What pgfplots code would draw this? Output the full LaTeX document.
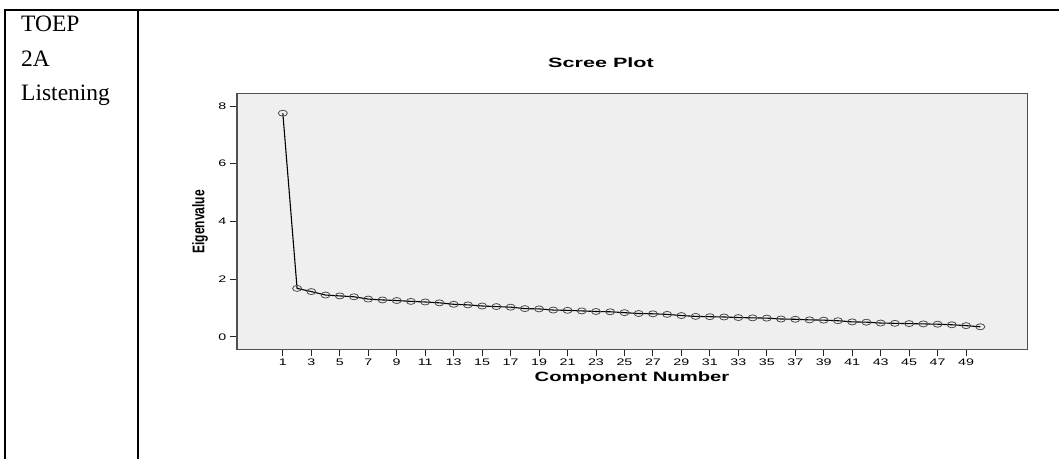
\documentclass[border=0pt]{standalone}
\usepackage{fontspec}
\setmainfont{Liberation Serif}
\newfontfamily\arial{Liberation Sans}
\usepackage{pgfplots}
\pgfplotsset{compat=1.18}
\definecolor{bgGray}{HTML}{EFEFEF}
\definecolor{frameGray}{HTML}{505050}
\definecolor{markGray}{HTML}{4A4A4A}
\begin{document}
\begin{tikzpicture}
\path[use as bounding box] (0pt,0pt) rectangle (1059pt,459pt);
% table lines
\draw[line width=1.3pt] (5pt,449pt) -- (1059pt,449pt);
\draw[line width=1.3pt] (5pt,449.65pt) -- (5pt,0pt);
\draw[line width=1.3pt] (138pt,449.65pt) -- (138pt,0pt);
% left cell text
\node[anchor=base west, inner sep=0pt, font=\fontsize{23.5}{28}\selectfont] at (21pt,427.3pt) {TOEP};
\node[anchor=base west, inner sep=0pt, font=\fontsize{23.5}{28}\selectfont] at (21pt,392.8pt) {2A};
\node[anchor=base west, inner sep=0pt, font=\fontsize{23.5}{28}\selectfont] at (21pt,359pt) {Listening};
\begin{axis}[
  at={(237pt,109.7pt)}, anchor=south west,
  scale only axis, width=790.7pt, height=256pt,
  xmin=-2.22, xmax=53.33, ymin=-0.43, ymax=8.44,
  axis background/.style={fill=bgGray},
  axis line style={draw=frameGray, line width=1.2pt},
  xtick={1,3,...,49}, ytick={0,2,4,6,8},
  xtick pos=bottom, ytick pos=left,
  tick align=outside, major tick length=7pt,
  tick style={draw=black!85, line width=0.9pt},
  /pgf/number format/assume math mode=true,
  ticklabel style={font=\arial\fontsize{9.5}{11}\selectfont, xscale=1.5},
  xticklabel style={yshift=1pt},
  yticklabel style={xshift=1pt},
  clip=false,
]
\addplot[black, line width=1.1pt, mark=o, mark size=3pt,
  mark options={xscale=1.5, fill=bgGray, draw=markGray, line width=0.8pt}]
coordinates {
(1,7.75)(2,1.68)(3,1.57)(4,1.45)(5,1.42)(6,1.39)(7,1.31)(8,1.28)(9,1.26)(10,1.23)
(11,1.21)(12,1.18)(13,1.13)(14,1.11)(15,1.07)(16,1.05)(17,1.03)(18,0.98)(19,0.97)(20,0.93)
(21,0.92)(22,0.90)(23,0.88)(24,0.87)(25,0.84)(26,0.81)(27,0.80)(28,0.78)(29,0.74)(30,0.71)
(31,0.70)(32,0.69)(33,0.67)(34,0.66)(35,0.65)(36,0.62)(37,0.61)(38,0.59)(39,0.58)(40,0.56)
(41,0.52)(42,0.51)(43,0.48)(44,0.47)(45,0.46)(46,0.45)(47,0.44)(48,0.42)(49,0.39)(50,0.35)
};
\end{axis}
% titles and labels
\node[font=\arial\bfseries\fontsize{13.5}{16}\selectfont, xscale=1.6, inner sep=0pt] at (601pt,396pt) {Scree Plot};
\node[font=\arial\bfseries\fontsize{13.5}{16}\selectfont, xscale=1.5, inner sep=0pt] at (632pt,81pt) {Component Number};
\node[inner sep=0pt] at (200pt,237.3pt) {\scalebox{1.4}[1]{\rotatebox{90}{\arial\bfseries\fontsize{12}{14}\selectfont Eigenvalue}}};
\end{tikzpicture}
\end{document}
